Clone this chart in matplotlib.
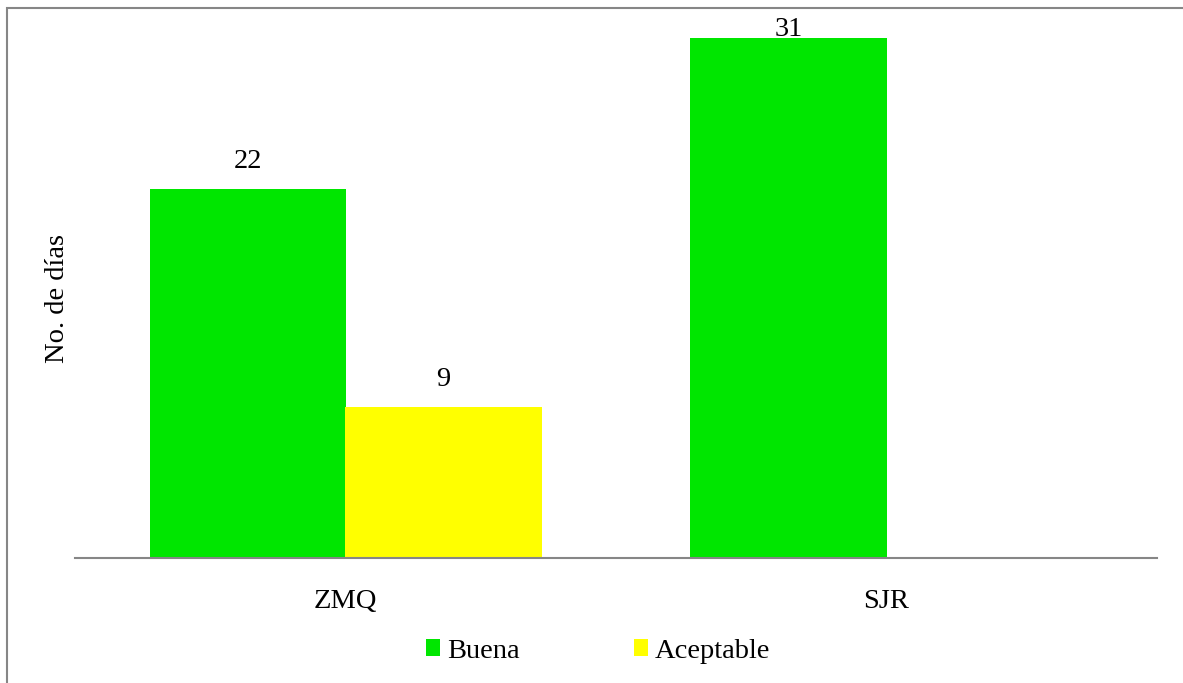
import numpy as np
import matplotlib
matplotlib.use("Agg")
from matplotlib import pyplot as plt
from matplotlib.patches import Rectangle

categories = ["ZMQ", "SJR"]
series_names = ["Buena", "Aceptable"]
buena = [22, 31]
aceptable = [9, 0]
colors = ["#00E600", "#FFFF00"]

plt.rcParams['font.family'] = ['Liberation Serif', 'DejaVu Serif']

if __name__ == "__main__":
    fig = plt.figure(figsize=(11.83, 6.83), dpi=100)
    W, H = 1183, 683
    ax = fig.add_axes([75 / W, (H - 558) / H, (1157 - 75) / W, (558 - 38) / H])

    fs = 20.5
    x = np.arange(len(categories)) + 0.5
    w = 196 / 541
    b1 = ax.bar(x - w / 2, buena, w, color=colors[0], label=series_names[0])
    b2 = ax.bar(x + w / 2, aceptable, w, color=colors[1], label=series_names[1])

    ymax = max(buena + aceptable)
    for bars, vals in [(b1, buena), (b2, aceptable)]:
        for rect, v in zip(bars, vals):
            if v == 0:
                continue
            off = 11 if v < ymax else -3
            ax.annotate(str(v), (rect.get_x() + rect.get_width() / 2, v),
                        xytext=(0, off), textcoords="offset points",
                        ha="center", va="bottom", fontsize=fs, annotation_clip=False)

    ax.set_xlim(0, 2)
    ax.set_ylim(0, ymax)
    ax.set_xticks(x)
    ax.set_xticklabels(categories, fontsize=fs)
    ax.tick_params(axis="x", length=0, pad=22)
    ax.set_yticks([])
    for s in ["top", "right", "left"]:
        ax.spines[s].set_visible(False)
    ax.spines["bottom"].set_color("#868686")
    ax.spines["bottom"].set_linewidth(1.5)

    fig.text(57 / W, 1 - 298 / H, "No. de días", rotation=90, ha="center", va="center", fontsize=fs)

    fig.legend(handles=[b1, b2], loc="center", bbox_to_anchor=(598 / W, 1 - 651 / H), ncol=2,
               frameon=False, fontsize=fs, handlelength=0.5, handleheight=0.5,
               handletextpad=0.25, columnspacing=4.0)

    # outer frame of the chart area
    fig.patches.append(Rectangle((7 / W, -0.01), 1.02, 1 - 8 / H + 0.01, transform=fig.transFigure,
                                 fill=False, edgecolor="#868686", linewidth=1.5))

    plt.savefig("out.png", dpi=100)
    plt.close()
